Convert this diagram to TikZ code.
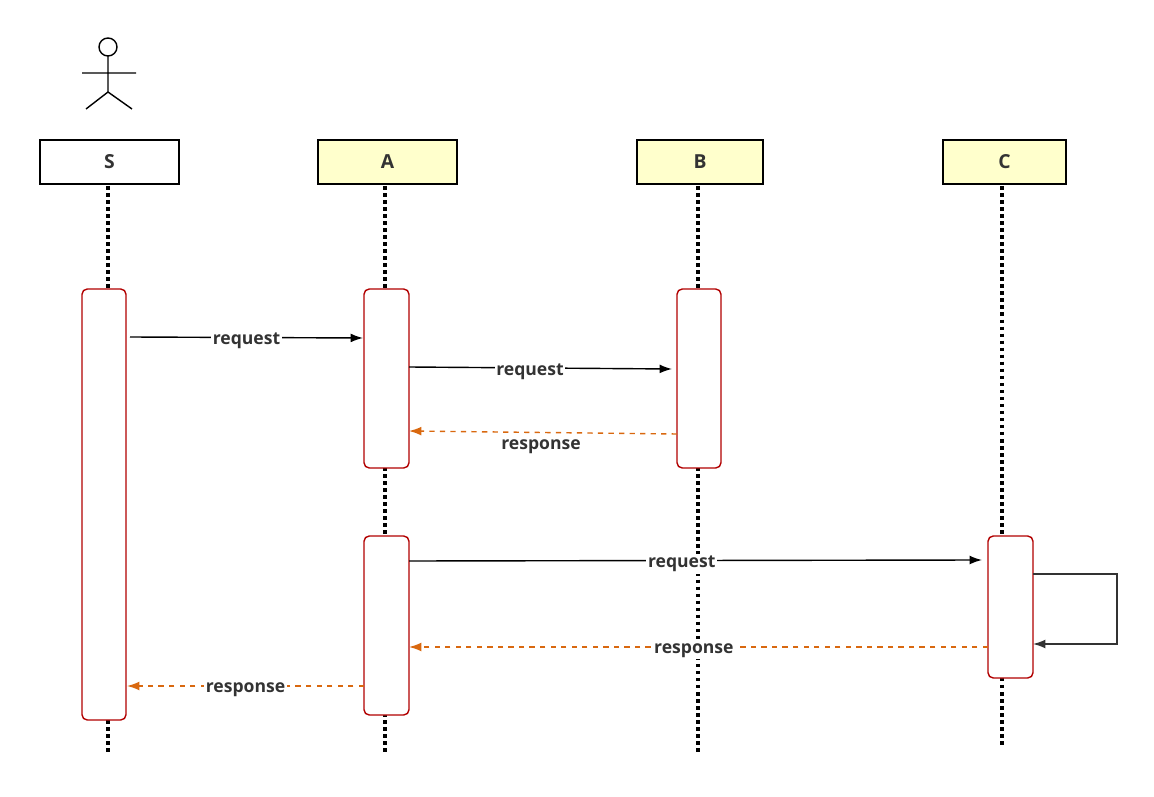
\documentclass[tikz,border=0pt]{standalone}
\usepackage{fontspec}
\setmainfont{Open Sans}
\usetikzlibrary{arrows.meta}
\definecolor{boxyellow}{HTML}{FFFFCC}
\definecolor{actred}{HTML}{B20000}
\definecolor{respcol}{HTML}{D9680F}
\begin{document}
\begin{tikzpicture}[x=0.02cm, y=-0.02cm, line width=0.8pt,
	every node/.style={font=\fontsize{10}{12}\selectfont\bfseries, text=black!80},
	head/.style={draw, minimum height=0.88cm, inner sep=0pt, font=\fontsize{11}{13}\selectfont\bfseries},
	life/.style={line width=2pt, dotted},
	act/.style={draw=actred, fill=white, rounded corners=3pt},
	req/.style={-{Latex[length=7pt,width=5pt]}},
	resp/.style={draw=respcol, dashed, -{Latex[length=7pt,width=5pt]}},
	lbl/.style={fill=white, inner sep=1pt, yshift=-2pt}]
	\useasboundingbox (0,0) rectangle (1154,797);
	% actor
	\draw (108,47) circle (9);
	\draw (108,56) -- (108,92) (82,73) -- (136,73) (86,109) -- (108,92) -- (132,109);
	% heads
	\node[head, minimum width=2.78cm, fill=white] (S) at (109.5,162) {S};
	\node[head, minimum width=2.78cm, fill=boxyellow] (A) at (387.5,162) {A};
	\node[head, minimum width=2.52cm, fill=boxyellow] (B) at (700,162) {B};
	\node[head, minimum width=2.46cm, fill=boxyellow] (C) at (1004.5,162) {C};
	% lifelines
	\draw[life] (108,186) -- (108,755);
	\draw[life] (385,186) -- (385,755);
	\draw[life] (698,186) -- (698,755);
	\draw[life] (1002,186) -- (1002,745);
	% activations
	\draw[act] (82,289) rectangle (126,720);
	\draw[act] (364,289) rectangle (409,468);
	\draw[act] (677,289) rectangle (721,468);
	\draw[act] (364,536) rectangle (409,715);
	\draw[act] (988,536) rectangle (1033,678);
	% messages
	\coordinate (s1) at (130,337); \coordinate (a1) at (363,338);
	\coordinate (a2) at (409,367); \coordinate (b1) at (672,369);
	\coordinate (b2) at (677,434); \coordinate (a3) at (409,431);
	\coordinate (a4) at (409,561); \coordinate (c1) at (982,560);
	\coordinate (c2) at (988,647); \coordinate (a5) at (409,647);
	\coordinate (a6) at (364,686); \coordinate (s2) at (127,686);
	\coordinate (c3) at (1033,574); \coordinate (c4) at (1033,644);
	\draw[req] (s1) -- node[lbl] {request} (a1);
	\draw[req] (a2) -- node[lbl, pos=0.46] {request} (b1);
	\draw[resp, respcol] (b2) -- (a3);
	\node[lbl] (r1) at (541,443) {response};
	\draw[req] (a4) -- node[lbl, pos=0.476] {request} (c1);
	\draw[req, black!80] (c3) -- (1117,574) -- (1117,644) -- (c4);
	\draw[resp, respcol] (c2) -- node[lbl, pos=0.508] {response} (a5);
	\draw[resp, respcol] (a6) -- node[lbl] {response} (s2);
\end{tikzpicture}
\end{document}
